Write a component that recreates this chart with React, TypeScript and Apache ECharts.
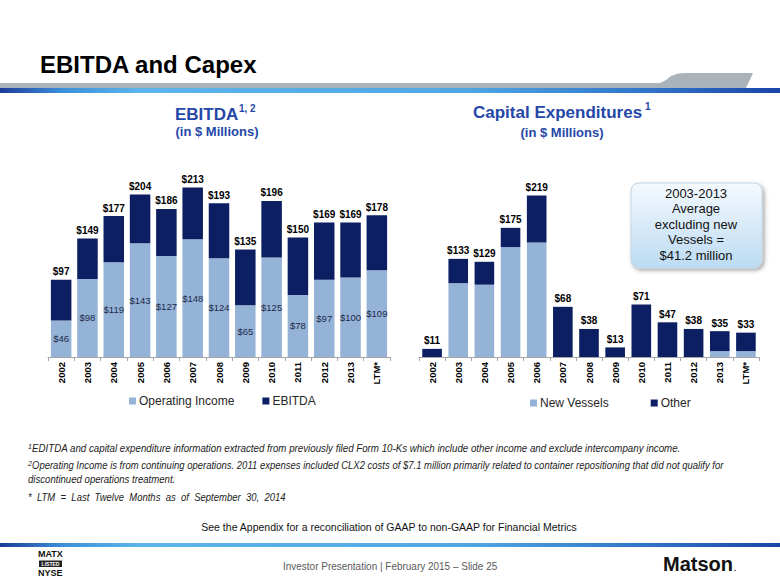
import React, { useEffect, useRef } from "react";
import * as echarts from "echarts";

const categories = ["2002", "2003", "2004", "2005", "2006", "2007", "2008", "2009", "2010", "2011", "2012", "2013", "LTM*"];
const ebitdaTotals = [97, 149, 177, 204, 186, 213, 193, 135, 196, 150, 169, 169, 178];
const operatingIncome = [46, 98, 119, 143, 127, 148, 124, 65, 125, 78, 97, 100, 109];
const capexTotals = [11, 133, 129, 175, 219, 68, 38, 13, 71, 47, 38, 35, 33];
const newVessels = [0, 100, 98, 149, 155, 0, 0, 0, 0, 0, 0, 8, 8];

const LIGHT = "#95B3D7";
const NAVY = "#0C1F63";
const TITLE_BLUE = "#2447A8";
const FONT = "'Liberation Sans', Arial, sans-serif";

const blueLine = {
  type: "linear", x: 0, y: 0, x2: 1, y2: 0,
  colorStops: [
    { offset: 0, color: "#1C3C9A" },
    { offset: 0.08, color: "#3C8FD8" },
    { offset: 0.18, color: "#5CB5EA" },
    { offset: 0.6, color: "#4FA6E2" },
    { offset: 0.85, color: "#2D6FC6" },
    { offset: 1, color: "#1A45A6" },
  ],
};

export default function App() {
  const ref = useRef<HTMLDivElement>(null);
  useEffect(() => {
    document.body.style.margin = "0";
    const chart = echarts.init(ref.current!, undefined, { renderer: "svg" });
    const t = (text: string, x: number, y: number, font: string, fill = "#000", align = "left", sx = 1) => ({
      type: "text", x, y, scaleX: sx,
      style: { text, font, fill, textAlign: align, textVerticalAlign: "middle" },
    });
    const option: any = {
      animation: false,
      backgroundColor: "#fff",
      grid: [
        { left: 48, width: 342, top: 158, height: 199 },
        { left: 419, width: 340, top: 172.5, height: 184.5 },
      ],
      xAxis: [0, 1].map((i) => ({
        type: "category", gridIndex: i, data: categories,
        axisLine: { lineStyle: { color: "#A6A6A6", width: 1 } },
        axisTick: { show: true, length: 4, lineStyle: { color: "#A6A6A6" } },
        axisLabel: { rotate: 90, fontWeight: "bold", fontSize: 9.5, color: "#000", margin: 5, fontFamily: FONT },
      })),
      yAxis: [0, 1].map((i) => ({ type: "value", gridIndex: i, min: 0, max: 250, show: false })),
      legend: [
        {
          data: ["Operating Income", "EBITDA"], left: 124, top: 390, itemWidth: 7, itemHeight: 7, itemGap: 28,
          icon: "rect", textStyle: { fontSize: 12, color: "#262626", fontFamily: FONT, padding: [0, 0, 0, -2] },
        },
        {
          data: ["New Vessels", "Other"], left: 525, top: 392, itemWidth: 7, itemHeight: 7, itemGap: 42,
          icon: "rect", textStyle: { fontSize: 12, color: "#262626", fontFamily: FONT, padding: [0, 0, 0, -2] },
        },
      ],
      series: [
        {
          name: "Operating Income", type: "bar", stack: "e", xAxisIndex: 0, yAxisIndex: 0,
          data: operatingIncome, itemStyle: { color: LIGHT }, barCategoryGap: "22%",
          label: { show: true, position: "inside", formatter: (p: any) => "$" + p.value, fontSize: 9.5, color: "#1C2A48", fontFamily: FONT },
        },
        {
          name: "EBITDA", type: "bar", stack: "e", xAxisIndex: 0, yAxisIndex: 0,
          data: ebitdaTotals.map((v, i) => v - operatingIncome[i]), itemStyle: { color: NAVY }, barCategoryGap: "22%",
          label: { show: true, position: "top", distance: 3, formatter: (p: any) => "$" + ebitdaTotals[p.dataIndex], fontSize: 10, fontWeight: "bold", color: "#000", fontFamily: FONT },
        },
        {
          name: "New Vessels", type: "bar", stack: "c", xAxisIndex: 1, yAxisIndex: 1,
          data: newVessels, itemStyle: { color: LIGHT }, barCategoryGap: "25%",
        },
        {
          name: "Other", type: "bar", stack: "c", xAxisIndex: 1, yAxisIndex: 1,
          data: capexTotals.map((v, i) => v - newVessels[i]), itemStyle: { color: NAVY }, barCategoryGap: "25%",
          label: { show: true, position: "top", distance: 3, formatter: (p: any) => "$" + capexTotals[p.dataIndex], fontSize: 10, fontWeight: "bold", color: "#000", fontFamily: FONT },
        },
      ],
      graphic: [
        // header band
        {
          type: "polygon",
          shape: { points: [[0, 83], [660, 83], [666, 80], [671, 76], [678, 73.5], [686, 73], [753, 73], [746, 88], [0, 88]] },
          style: { fill: "#A9B3B9" },
        },
        { type: "rect", shape: { x: 0, y: 88, width: 780, height: 5 }, style: { fill: blueLine } },
        t("EBITDA and Capex", 40, 64, `bold 24px ${FONT}`, "#000"),
        // chart titles
        t("EBITDA", 175, 114, `bold 17px ${FONT}`, TITLE_BLUE),
        t("1, 2", 239, 108, `bold 10px ${FONT}`, TITLE_BLUE),
        t("(in $ Millions)", 217, 131, `bold 13px ${FONT}`, TITLE_BLUE, "center"),
        t("Capital Expenditures", 473, 112, `bold 17px ${FONT}`, TITLE_BLUE),
        t("1", 645, 106, `bold 10px ${FONT}`, TITLE_BLUE),
        t("(in $ Millions)", 562, 132, `bold 13px ${FONT}`, TITLE_BLUE, "center"),
        // callout box
        {
          type: "rect",
          shape: { x: 631, y: 183, width: 131, height: 85, r: 8 },
          style: {
            fill: { type: "linear", x: 0, y: 0, x2: 0, y2: 1, colorStops: [{ offset: 0, color: "#F4F9FE" }, { offset: 1, color: "#BCDBF2" }] },
            stroke: "#C3D6E6", lineWidth: 1,
            shadowBlur: 4, shadowColor: "rgba(0,0,0,0.35)", shadowOffsetX: 2, shadowOffsetY: 2,
          },
        },
        t("2003-2013", 696, 193, `13px ${FONT}`, "#111", "center"),
        t("Average", 696, 208.5, `13px ${FONT}`, "#111", "center"),
        t("excluding new", 696, 224, `13px ${FONT}`, "#111", "center"),
        t("Vessels =", 696, 239.5, `13px ${FONT}`, "#111", "center"),
        t("$41.2 million", 696, 255, `13px ${FONT}`, "#111", "center"),
        // footnotes
        t("1", 28, 446, `italic 7px ${FONT}`, "#222"),
        t("EDITDA and capital expenditure information extracted from previously filed Form 10-Ks which include other income and exclude intercompany income.", 32, 448.5, `italic 10px ${FONT}`, "#222", "left", 0.975),
        t("2", 28, 463, `italic 7px ${FONT}`, "#222"),
        t("Operating Income is from continuing operations. 2011 expenses included CLX2 costs of $7.1 million primarily related to container repositioning that did not qualify for", 32, 465.5, `italic 10px ${FONT}`, "#222", "left", 0.95),
        t("discontinued operations treatment.", 28, 479.5, `italic 10px ${FONT}`, "#222", "left", 0.96),
        t("*  LTM  =  Last  Twelve  Months  as  of  September  30,  2014", 28, 497, `italic 10px ${FONT}`, "#222", "left", 0.95),
        t("See the Appendix for a reconciliation of GAAP to non-GAAP for Financial Metrics", 389, 527, `11px ${FONT}`, "#111", "center", 0.955),
        // footer
        { type: "rect", shape: { x: 0, y: 543, width: 780, height: 4 }, style: { fill: blueLine } },
        t("MATX", 38, 553.5, `bold 9px ${FONT}`, "#111"),
        { type: "rect", shape: { x: 39, y: 560.5, width: 23, height: 6.5 }, style: { fill: "#222" } },
        t("LISTED", 50.5, 564, `bold 5px ${FONT}`, "#fff", "center"),
        t("NYSE", 38, 573, `bold 9px ${FONT}`, "#111"),
        t("Investor Presentation | February 2015 \u2013 Slide 25", 283, 566, `10.5px ${FONT}`, "#595959", "left", 0.95),
        t("Matson", 663, 564, `bold 20px ${FONT}`, "#111"),
        t(".", 734, 568, `bold 8px ${FONT}`, "#111"),
      ],
    };
    chart.setOption(option);
    return () => chart.dispose();
  }, []);
  return <div ref={ref} style={{ width: 780, height: 585 }} />;
}
